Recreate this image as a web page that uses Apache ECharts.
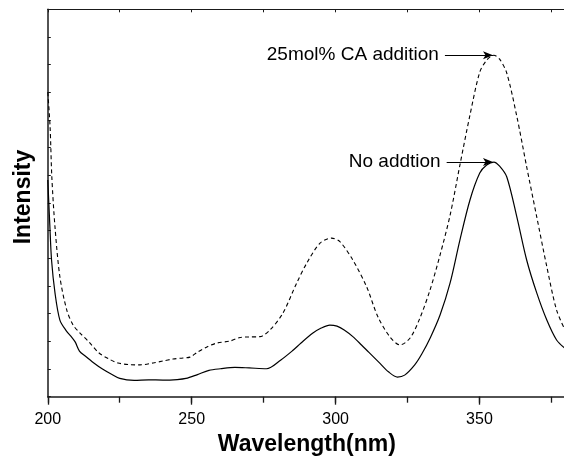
<!DOCTYPE html>
<html>
<head>
<meta charset="utf-8">
<script src="https://cdn.jsdelivr.net/npm/echarts@6/dist/echarts.min.js"></script>
<style>
html,body{margin:0;padding:0;background:#fff;}
#c{width:564px;height:463px;}
</style>
</head>
<body>
<div id="c"></div>
<script>
// Wavelength (nm) and intensity (a.u.)
const wlSolid = [200,200.7,201.3,202.5,204.2,206.5,208,209.5,211,213,216,219,222,225,230,235,240,245,248,252,256,260,265,270,276,281,285,288,292,295,298,300.5,303,306,309,311.5,315,318.5,321.5,324,327.5,330,333,336.3,339.8,343.2,346.7,350.1,352.5,355,357,359.5,363,366.4,369.9,373.4,376.8,380];
const intSolid = [7.83,6.20,4.94,3.75,2.77,2.37,2.19,1.98,1.65,1.47,1.22,1.00,0.82,0.66,0.59,0.61,0.60,0.62,0.66,0.80,0.95,1.01,1.06,1.04,1.01,1.33,1.66,1.94,2.29,2.48,2.59,2.55,2.41,2.17,1.87,1.61,1.25,0.89,0.71,0.78,1.15,1.55,2.15,2.95,4.11,5.66,7.11,8.08,8.37,8.48,8.33,7.94,6.49,4.94,3.75,2.77,2.05,1.72];
const wlDashed = [200,200.8,201.4,202.5,204.2,206.6,208.8,211.2,214.3,217.8,221.3,224.4,228,232,236.6,240,243.5,247,249.4,252,255.3,258.8,263.3,266.8,270,273.7,277.2,281.7,286.5,290,294.6,298.6,301.5,306,310.8,314.7,318.9,322.4,325.9,329.3,332.8,336.3,339.8,343.2,346.7,350.1,352.5,355,357,359.5,363,366.4,369.9,373.4,376.8,380];
const intDashed = [11.0,9.74,7.94,6.13,4.33,3.13,2.59,2.30,1.98,1.58,1.36,1.22,1.16,1.15,1.22,1.29,1.36,1.40,1.43,1.61,1.80,1.94,2.01,2.14,2.16,2.17,2.41,3.02,4.11,4.83,5.55,5.73,5.60,4.94,3.97,2.89,2.16,1.87,2.12,2.84,3.85,5.12,6.56,8.37,10.18,11.73,12.16,12.34,12.20,11.69,10.12,8.31,6.50,4.70,3.13,2.35];
const xTickLabels = [200,250,300,350];
const labelSolid = 'No addtion';
const labelDashed = '25mol% CA addition';
const yTitle = 'Intensity';
const xTitle = 'Wavelength(nm)';
const arrowStartSolid = 338.6, arrowStartDashed = 338.0, arrowEnd = 354.7;

const FONT = '"Liberation Sans", Arial, Helvetica, sans-serif';
const pairs = (xs, ys) => xs.map((x, i) => [x, ys[i]]);
const peakSolid = Math.max(...intSolid);
const peakDashed = Math.max(...intDashed);

const chart = echarts.init(document.getElementById('c'), null, {renderer: 'canvas'});
const lineColor = '#1a1a1a';

function arrow(x0, x1, y, text) {
  return {
    silent: true,
    animation: false,
    symbol: ['none', 'arrow'],
    symbolSize: [6, 10],
    lineStyle: {color: '#000', width: 1, type: 'solid'},
    label: {show: true, position: 'start', formatter: text, color: '#000', fontSize: 19, fontFamily: FONT, distance: 6},
    data: [[{coord: [x0, y]}, {coord: [x1, y]}]]
  };
}

chart.setOption({
  animation: false,
  backgroundColor: '#fff',
  grid: {left: 47.8, top: 9.3, bottom: 66.3, width: 518, containLabel: false, outerBoundsMode: 'none'},
  graphic: [{
    type: 'text', x: 24, y: 197, rotation: Math.PI / 2,
    silent: true,
    style: {text: yTitle, font: 'bold 23px ' + FONT, fill: '#000', textAlign: 'center', textVerticalAlign: 'middle'}
  }],
  xAxis: [
    {
      type: 'value', position: 'bottom', min: 200, max: 380, interval: 50,
      name: xTitle, nameLocation: 'middle', nameGap: 36,
      nameTextStyle: {fontSize: 23, fontWeight: 'bold', fontFamily: FONT, color: '#000'},
      axisLine: {show: true, onZero: false, lineStyle: {color: lineColor, width: 1.5}},
      axisTick: {show: true, inside: false, length: 8, lineStyle: {color: lineColor, width: 1.3}},
      axisLabel: {show: true, margin: 15, fontSize: 16, fontFamily: FONT, color: '#000',
        formatter: v => xTickLabels.includes(v) ? String(v) : ''},
      splitLine: {show: false}
    },
    {
      type: 'value', position: 'bottom', min: 200, max: 380, interval: 25,
      axisLine: {show: false, onZero: false},
      axisTick: {show: true, inside: false, length: 6, lineStyle: {color: lineColor, width: 1.3}},
      axisLabel: {show: false},
      splitLine: {show: false}
    },
    {
      type: 'value', position: 'top', min: 200, max: 380, interval: 25,
      axisLine: {show: true, onZero: false, lineStyle: {color: lineColor, width: 1.2}},
      axisTick: {show: true, inside: true, length: 3, lineStyle: {color: lineColor, width: 1}},
      axisLabel: {show: false},
      splitLine: {show: false}
    }
  ],
  yAxis: {
    type: 'value', min: 0, max: 14, interval: 1,
    axisLine: {show: true, onZero: false, lineStyle: {color: lineColor, width: 1.5}},
    axisTick: {show: true, inside: true, length: 3, lineStyle: {color: lineColor, width: 1}},
    axisLabel: {show: false},
    splitLine: {show: false}
  },
  series: [
    {
      name: labelSolid, type: 'line', xAxisIndex: 0, data: pairs(wlSolid, intSolid),
      showSymbol: false, smooth: 0.3, clip: true,
      lineStyle: {color: '#000', width: 1.2, type: 'solid'},
      markLine: arrow(arrowStartSolid, arrowEnd, peakSolid, labelSolid)
    },
    {
      name: labelDashed, type: 'line', xAxisIndex: 0, data: pairs(wlDashed, intDashed),
      showSymbol: false, smooth: 0.3, clip: true,
      lineStyle: {color: '#000', width: 1.1, type: [4, 3]},
      markLine: arrow(arrowStartDashed, arrowEnd, peakDashed, labelDashed)
    }
  ]
});
</script>
</body>
</html>
